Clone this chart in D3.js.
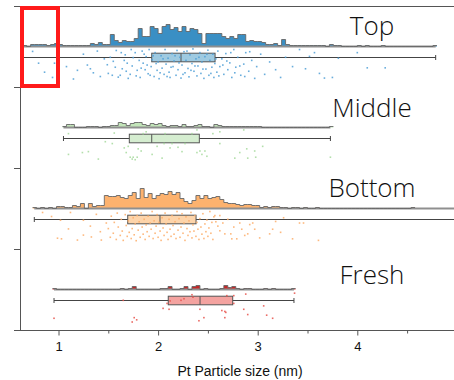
<!DOCTYPE html>
<html><head><meta charset="utf-8">
<script src="https://cdn.jsdelivr.net/npm/d3@7"></script>
<style>body{margin:0;background:#fff}svg{display:block}</style>
</head><body><svg id="c" width="454" height="380"></svg>
<script>
// ---------------- DATA ----------------
const groups = ["Top", "Middle", "Bottom", "Fresh"];
const binWidth = 0.04;               // nm
const histStart = [0.64, 1.04, 0.74, 0.94];

const histTop = [1,0,2,2,2,2,1,2,3,2, 1,1,1,1,1,1,1,3,2,4, 2,2,12,6,4,6,5,5,8,18,
  10,10,20,18,13,20,22,17,19,15, 20,15,18,17,13,3,13,13,13,13, 10,8,10,8,12,12,5,6,5,5,
  4,2,2,3,1,7,2,1,1,1, 1,1,1,1,1,1,0,2,1,1, 0,0,0,0,1,0,1,0,0,0, 1,0,0,0,0,0,0,0,0,0, 0,0,0,1];
const histMiddle = [1,3,3,0,0,0,1,1,1,0, 1,1,2,2,5,4,2,4,5,5, 3,2,4,3,4,2,1,2,2,1,
  3,1,1,2,3,1,1,0,3,2, 1,1,1,1,1,1,1,1,1,1, 0,0,0,0,0,0,0,0,0,0, 0,0,0,0,0,0,0,1];
const histBottom = [1,0,1,0,1,0,2,2,1,1, 3,2,5,0,5,2,3,3,13,12, 12,13,11,10,13,16,10,20,11,15,
  10,13,15,14,17,14,16,10,7,5, 8,13,10,13,10,11,12,9,6,5, 5,4,3,4,4,3,3,1,2,1,
  2,2,1,1,0,1,1,0,1,0, 0,1,0,0,0,0,0,0,0,0, 0,0,0,0,0,0,0,0,0,0, 0,0,0,0,0,1];
const histFresh = [1,0,0,0,0,0,0,0,0,0, 0,0,0,0,0,0,0,1,0,1, 3,0,0,0,0,0,0,1,1,3,
  0,0,1,3,0,3,4,0,1,0, 0,0,1,4,2,3,1,0,1,1, 0,0,0,1,0,1,0,0,0,0, 1];

// box-plot statistics (nm)
const whiskerMin = [0.641, 1.05, 0.757, 0.955];
const q1        = [1.936, 1.711, 1.695, 2.102];
const median    = [2.230, 1.936, 2.019, 2.421];
const q3        = [2.572, 2.414, 2.381, 2.749];
const whiskerMax = [4.787, 3.73, 5.00, 3.364];

// raw points: [size nm, jitter fraction]
const ptsTop = [[0.74,.11],[0.80,.49],[0.86,.78],[0.94,.95],[0.96,.49],[1.08,.60],[1.15,1.0],[1.19,.72],[1.25,.20],[1.29,.55],[1.32,.67],[1.35,.80],[1.39,.10],[1.42,.92],[1.46,.35],[1.49,.54],
[1.50,.82],[1.52,.30],[1.54,.88],[1.55,.43],[1.57,.62],[1.58,.08],[1.60,.94],[1.62,.88],[1.63,.15],[1.64,.67],[1.66,.40],[1.67,.22],[1.68,.75],[1.69,.49],[1.70,.98],[1.72,.85],[1.73,.05],[1.74,.58],[1.75,.31],[1.77,.15],[1.78,.90],[1.79,.72],
[1.81,.40],[1.82,.95],[1.83,.65],[1.84,.10],[1.85,.49],[1.86,.20],[1.87,.70],[1.88,.28],[1.89,.55],[1.90,.83],[1.91,.05],[1.92,.88],[1.93,.60],[1.94,.38],[1.95,.25],[1.96,.92],[1.97,.15],[1.98,.50],[1.99,.72],[2.00,.45],[2.01,.99],[2.02,.80],[2.03,.25],[2.04,.65],[2.05,.35],[2.06,.85],[2.07,.05],[2.08,.52],[2.09,.92],[2.10,.33],[2.11,.78],[2.12,.95],[2.13,.62],[2.14,.18],[2.15,.60],[2.16,.42],[2.17,.25],[2.18,.88],[2.19,.08],[2.20,.70],[2.21,.48],[2.22,.30],[2.23,.97],[2.24,.55],[2.25,.85],[2.26,.12],[2.27,.80],[2.28,.40],[2.29,.10],[2.30,.66],[2.31,.93],[2.32,.22],[2.33,.72],[2.34,.50],[2.35,.03],[2.36,.75],[2.37,.58],[2.38,.35],[2.39,.90],[2.40,.58],[2.41,.30],[2.42,.15],[2.43,.82],[2.44,.45],[2.45,.68],[2.46,.98],[2.47,.28],[2.48,.68],[2.49,.20],[2.50,.07],[2.51,.88],[2.52,.40],[2.53,.82],[2.54,.62],[2.55,.20],[2.56,.95],[2.57,.50],[2.58,.35],[2.59,.78],[2.60,.10],
[2.61,.90],[2.62,.60],[2.64,.35],[2.65,.55],[2.66,.85],[2.68,.18],[2.69,.42],[2.70,.70],[2.72,.48],[2.73,.15],[2.74,.95],[2.76,.05],[2.77,.80],[2.78,.62],[2.80,.30],[2.82,.58],[2.83,.88],[2.86,.52],[2.87,.92],[2.88,.15],[2.91,.75],[2.92,.12],[2.94,.40],[2.97,.98],[2.99,.60],
[3.03,.20],[3.07,.85],[3.12,.45],[3.18,.70],[3.23,.95],[3.28,.30],[3.35,.60],[3.42,.05],[3.48,.67],[3.52,.27],[3.57,.15],[3.62,.82],[3.67,.97],[3.75,.95],[3.81,.33],[4.00,.15],[4.10,.64],[4.28,.64]];

const ptsMiddle = [[1.10,.15],[1.10,.82],[1.24,.76],[1.30,.73],[1.40,.97],[1.47,.41],[1.54,.47],[1.56,.13],[1.66,.61],[1.68,.76],[1.70,.56],[1.72,.91],[1.74,.97],[1.75,.91],[1.77,.99],[1.79,.91],[1.80,.64],[1.83,.71],[1.85,.15],[1.88,.09],[1.94,.82],[1.99,.56],[2.04,.94],[2.06,.47],[2.07,.15],[2.12,.61],[2.14,.47],[2.20,.59],[2.24,.73],[2.27,.47],[2.34,.15],[2.39,.76],[2.39,.03],[2.42,.71],[2.44,.82],[2.47,.71],[2.49,.88],[2.55,.15],[2.62,.09],[2.62,.47],[2.77,.94],[2.82,.76],[2.86,.03],[2.89,.64],[2.90,.94],[2.97,.71],[2.98,.91],[3.05,.56],[3.73,.91]];

const ptsBottom = [[0.84,.08],[0.93,.21],[0.99,.91],[1.02,.33],[1.03,.93],[1.10,.61],[1.12,.08],[1.19,.97],[1.25,.81],[1.25,.33],[1.32,.52],[1.33,.87],[1.38,.14],[1.42,.70],[1.43,.97],[1.48,.42],
[1.50,.60],[1.52,.88],[1.53,.20],[1.55,.75],[1.56,.40],[1.58,.95],[1.59,.10],[1.60,.55],[1.62,.82],[1.63,.30],[1.64,.68],[1.65,.98],[1.67,.15],[1.68,.50],[1.69,.85],[1.70,.35],[1.71,.72],[1.72,.05],[1.73,.92],[1.74,.60],[1.75,.25],[1.76,.80],[1.77,.45],[1.78,.99],[1.79,.18],[1.80,.65],[1.81,.38],[1.82,.88],[1.83,.10],[1.84,.55],[1.85,.78],[1.86,.30],[1.87,.95],[1.88,.48],[1.89,.70],[1.90,.20],[1.91,.85],[1.92,.42],[1.93,.62],[1.94,.05],[1.95,.92],[1.96,.35],[1.97,.75],[1.98,.52],[1.99,.15],[2.00,.88],[2.01,.40],[2.02,.68],[2.03,.98],[2.04,.25],[2.05,.58],[2.06,.82],[2.07,.10],[2.08,.45],[2.09,.72],[2.10,.95],[2.11,.30],[2.12,.62],[2.13,.85],[2.14,.18],[2.15,.50],[2.16,.78],[2.17,.38],[2.18,.92],[2.19,.05],[2.20,.65],[2.21,.28],[2.22,.88],[2.23,.55],[2.24,.12],[2.25,.75],[2.26,.42],[2.27,.98],[2.28,.22],[2.29,.60],[2.30,.82],[2.31,.35],[2.32,.70],[2.33,.08],[2.34,.90],[2.35,.48],[2.36,.68],[2.37,.18],[2.38,.85],[2.39,.40],[2.40,.62],[2.41,.95],[2.42,.28],[2.43,.55],[2.44,.78],[2.45,.12],[2.46,.92],[2.47,.45],[2.48,.70],[2.49,.32],[2.50,.85],[2.51,.58],[2.52,.05],[2.53,.75],[2.54,.40],[2.55,.95],[2.56,.22],
[2.57,.18],[2.58,.38],[2.60,.52],[2.62,.18],[2.62,.67],[2.65,.42],[2.67,.77],[2.70,.30],[2.73,.77],[2.74,.93],[2.76,.55],[2.79,.93],[2.82,.42],[2.84,.62],[2.87,.82],[2.90,.77],[2.92,.47],[2.95,.42],[2.97,.62],[3.02,.90],[3.12,.77],[3.15,.62],[3.18,.37],[3.23,.72],[3.26,.25],[3.35,.93],[3.42,.42],[3.46,.42],[3.61,.98]];

const ptsFresh = [[0.955,.88],[1.65,.30],[1.74,1.0],[1.76,.86],[1.785,.93],[2.05,.56],[2.09,.40],[2.11,.59],[2.12,.32],[2.23,.30],[2.26,.25],[2.34,.12],[2.35,.20],[2.41,.96],[2.42,.59],[2.46,.86],[2.64,.63],[2.67,.66],[2.67,.86],[2.68,.69],[2.69,.15],[2.76,.15],[2.76,.40],[2.86,.59],[2.88,.10],[2.90,.76],[3.06,.48],[3.09,.78],[3.15,.88],[3.37,.07]];

const xTicks = [1, 2, 3, 4];
const xMinorTicks = [1.5, 2.5, 3.5, 4.5];
const xTitle = "Pt Particle size (nm)";

// ---------------- STYLE ----------------
const histFill  = ["#3a8fc4", "#c2e5b9", "#fdb26e", "#c62828"];
const boxFill   = ["#9ecae1", "#d5edd0", "#fdd4aa", "#f4a3a0"];
const ptColor   = ["#4f9fd6", "#a6d99c", "#fdad68", "#e8514a"];
const labelDy   = [29, 29.7, 28.7, 34.5];

// ---------------- DRAW ----------------
const hists = [histTop, histMiddle, histBottom, histFresh];
const pts = [ptsTop, ptsMiddle, ptsBottom, ptsFresh];
const svg = d3.select("#c");

const x = d3.scaleLinear().domain([1, 4]).range([58.5, 357.3]);
const y = d3.scaleBand().domain(groups).range([6, 330]);
const hScale = d3.scaleLinear().domain([0, 1]).range([0, 1]); // px per count

const yAxisX = 20.5;

groups.forEach((g, gi) => {
  const top = y(g);
  const base = top + 40.5;
  const boxC = top + 51.5;
  const counts = hists[gi];
  const start = histStart[gi];
  const data = counts.map((c, i) => [start + i * binWidth, c]);
  data.push([start + counts.length * binWidth, counts[counts.length - 1]]);
  const gg = svg.append("g");

  gg.append("path").datum(data)
    .attr("d", d3.area().curve(d3.curveStepAfter)
      .x(d => x(d[0])).y0(base).y1(d => base - hScale(d[1])))
    .attr("fill", histFill[gi]);
  gg.append("line")
    .attr("x1", x(whiskerMin[gi])).attr("x2", x(whiskerMax[gi]))
    .attr("y1", base).attr("y2", base)
    .attr("stroke", "#8f8f8f").attr("stroke-width", 1.8);
  gg.append("path").datum(data)
    .attr("d", d3.line().curve(d3.curveStepAfter)
      .x(d => x(d[0])).y(d => base - hScale(d[1])))
    .attr("fill", "none").attr("stroke", "#666").attr("stroke-width", 0.9);

  // whiskers
  gg.append("line").attr("x1", x(whiskerMin[gi])).attr("x2", x(whiskerMax[gi]))
    .attr("y1", boxC).attr("y2", boxC).attr("stroke", "#444").attr("stroke-width", 1);
  [whiskerMin[gi], whiskerMax[gi]].forEach(v => {
    gg.append("line").attr("x1", x(v)).attr("x2", x(v))
      .attr("y1", boxC - 2.5).attr("y2", boxC + 2.5).attr("stroke", "#444").attr("stroke-width", 1);
  });
  // box
  gg.append("rect").attr("x", x(q1[gi])).attr("width", x(q3[gi]) - x(q1[gi]))
    .attr("y", boxC - 4.3).attr("height", 8.6)
    .attr("fill", boxFill[gi]).attr("stroke", "#555").attr("stroke-width", 1);
  gg.append("line").attr("x1", x(median[gi])).attr("x2", x(median[gi]))
    .attr("y1", boxC - 4.3).attr("y2", boxC + 4.3).attr("stroke", "#555").attr("stroke-width", 1);

  // raw points
  gg.selectAll("rect.pt").data(pts[gi]).enter().append("rect").attr("class", "pt")
    .attr("x", d => x(d[0]) - 0.8).attr("y", d => base + 1.5 + d[1] * 31 - 0.8)
    .attr("width", 1.6).attr("height", 1.6)
    .attr("fill", ptColor[gi]).attr("opacity", 0.85);

  // label
  svg.append("text").attr("x", 372).attr("y", top + labelDy[gi])
    .attr("text-anchor", "middle")
    .style("font-family", "'Open Sans', sans-serif").style("font-size", "26px")
    .style("font-weight", 300)
    .attr("fill", "#111").text(g);
});

// frame lines
svg.append("line").attr("x1", 14).attr("x2", 454).attr("y1", 6.5).attr("y2", 6.5)
  .attr("stroke", "#555").attr("stroke-width", 1);
svg.append("line").attr("x1", 14).attr("x2", 454).attr("y1", 330.5).attr("y2", 330.5)
  .attr("stroke", "#555").attr("stroke-width", 1);
svg.append("line").attr("x1", yAxisX).attr("x2", yAxisX).attr("y1", 6).attr("y2", 330.5)
  .attr("stroke", "#555").attr("stroke-width", 1);
groups.slice(1).forEach(g => {
  svg.append("line").attr("x1", 14).attr("x2", yAxisX).attr("y1", y(g) + 0.5).attr("y2", y(g) + 0.5)
    .attr("stroke", "#555").attr("stroke-width", 1);
});

// x axis
const xa = svg.append("g").attr("transform", "translate(0,330.5)")
  .call(d3.axisBottom(x).tickValues(xTicks).tickSize(5).tickSizeOuter(0).tickPadding(6).tickFormat(d3.format("d")));
xa.select(".domain").remove();
xa.selectAll("line").attr("stroke", "#555");
xa.selectAll("text").style("font-family", "'Liberation Sans', Arial, sans-serif").style("font-size", "13px").attr("fill", "#111");
const xm = svg.append("g").attr("transform", "translate(0,330.5)")
  .call(d3.axisBottom(x).tickValues(xMinorTicks).tickSize(3).tickSizeOuter(0).tickFormat(""));
xm.select(".domain").remove();
xm.selectAll("line").attr("stroke", "#555");

svg.append("text").attr("x", 240).attr("y", 376).attr("text-anchor", "middle")
  .style("font-family", "'Liberation Sans', Arial, sans-serif").style("font-size", "14px")
  .attr("fill", "#111").text(xTitle);

// red highlight rectangle
svg.append("rect").attr("x", 22).attr("y", 8).attr("width", 36).attr("height", 78)
  .attr("fill", "none").attr("stroke", "#ff1a1a").attr("stroke-width", 4);
</script></body></html>
